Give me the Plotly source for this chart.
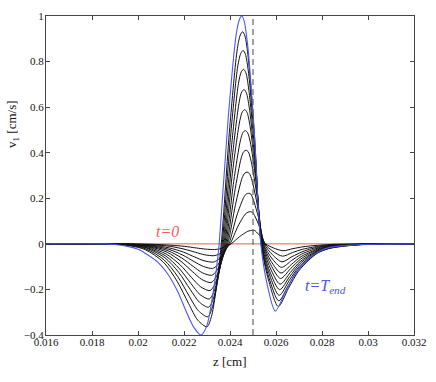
import plotly.graph_objects as go

# ── DATA ──────────────────────────────────────────────────
# black curves, from the smallest (earliest) to the largest
c01_z = [0.016, 0.01963, 0.02063, 0.02143, 0.02203, 0.02253, 0.02293, 0.02333, 0.02355, 0.02376, 0.02405,
         0.02442, 0.02475, 0.02488, 0.02498, 0.02508, 0.02515, 0.02535, 0.02555, 0.02589, 0.0263, 0.02674,
         0.02717, 0.0276, 0.028, 0.0285, 0.02964, 0.032]
c01_v = [0, 0.0, -0.002, -0.006, -0.011, -0.018, -0.023, -0.025, -0.022, -0.015, 0,
         0.032, 0.054, 0.058, 0.059, 0.058, 0.052, 0.030, 0, -0.018, -0.030, -0.021,
         -0.013, -0.008, -0.005, -0.002, -0.001, 0]

c02_z = [0.016, 0.0196, 0.0206, 0.0214, 0.022, 0.0225, 0.0229, 0.0233, 0.02351, 0.02372, 0.024,
         0.02435, 0.02466, 0.02478, 0.02488, 0.02498, 0.02507, 0.0253, 0.02552, 0.02586, 0.02628, 0.02672,
         0.02715, 0.02758, 0.02798, 0.02848, 0.02968, 0.032]
c02_v = [0, -0.001, -0.004, -0.011, -0.023, -0.037, -0.048, -0.052, -0.046, -0.031, 0,
         0.078, 0.130, 0.139, 0.141, 0.138, 0.124, 0.071, 0, -0.032, -0.054, -0.038,
         -0.024, -0.015, -0.008, -0.004, -0.001, 0]

c03_z = [0.016, 0.0196, 0.02057, 0.02137, 0.02197, 0.02247, 0.02287, 0.02327, 0.02347, 0.02368, 0.02395,
         0.02429, 0.0246, 0.02471, 0.02481, 0.02491, 0.02501, 0.02525, 0.02549, 0.02584, 0.02626, 0.0267,
         0.02713, 0.02756, 0.02796, 0.02846, 0.02966, 0.032]
c03_v = [0, -0.001, -0.006, -0.018, -0.036, -0.058, -0.074, -0.080, -0.070, -0.048, 0,
         0.122, 0.204, 0.219, 0.222, 0.218, 0.195, 0.111, 0, -0.047, -0.079, -0.056,
         -0.035, -0.021, -0.012, -0.006, -0.001, 0]

c04_z = [0.016, 0.01954, 0.02054, 0.02134, 0.02194, 0.02244, 0.02284, 0.02324, 0.02344, 0.02364, 0.0239,
         0.02424, 0.02453, 0.02464, 0.02474, 0.02484, 0.02496, 0.02521, 0.02546, 0.02581, 0.02624, 0.02668,
         0.02711, 0.02754, 0.02794, 0.02844, 0.02964, 0.032]
c04_v = [0, -0.001, -0.008, -0.024, -0.049, -0.078, -0.099, -0.108, -0.095, -0.065, 0,
         0.173, 0.290, 0.310, 0.315, 0.309, 0.277, 0.158, 0, -0.062, -0.103, -0.073,
         -0.045, -0.028, -0.015, -0.008, -0.002, 0]

c05_z = [0.016, 0.0195, 0.0205, 0.0213, 0.0219, 0.0224, 0.0228, 0.0232, 0.0234, 0.0236, 0.02386,
         0.0242, 0.02449, 0.0246, 0.0247, 0.0248, 0.02492, 0.02518, 0.02544, 0.02579, 0.02622, 0.02666,
         0.02709, 0.02752, 0.02792, 0.02842, 0.02962, 0.032]
c05_v = [0, -0.001, -0.010, -0.030, -0.062, -0.099, -0.127, -0.138, -0.121, -0.083, 0,
         0.226, 0.378, 0.405, 0.411, 0.403, 0.362, 0.206, 0, -0.077, -0.128, -0.091,
         -0.056, -0.035, -0.019, -0.010, -0.002, 0]

c06_z = [0.016, 0.01947, 0.02047, 0.02127, 0.02187, 0.02237, 0.02277, 0.02317, 0.02337, 0.02356, 0.02382,
         0.02416, 0.02446, 0.02457, 0.02467, 0.02477, 0.0249, 0.02516, 0.02542, 0.02577, 0.0262, 0.02664,
         0.02707, 0.0275, 0.0279, 0.0284, 0.0296, 0.032]
c06_v = [0, -0.002, -0.012, -0.037, -0.077, -0.122, -0.156, -0.170, -0.150, -0.102, 0,
         0.273, 0.457, 0.490, 0.497, 0.487, 0.437, 0.249, 0, -0.091, -0.152, -0.108,
         -0.067, -0.041, -0.023, -0.011, -0.003, 0]

c07_z = [0.016, 0.01943, 0.02043, 0.02123, 0.02183, 0.02233, 0.02273, 0.02313, 0.02333, 0.02352, 0.02378,
         0.02412, 0.02443, 0.02454, 0.02464, 0.02474, 0.02487, 0.02513, 0.0254, 0.02575, 0.02618, 0.02662,
         0.02705, 0.02748, 0.02788, 0.02838, 0.02958, 0.032]
c07_v = [0, -0.002, -0.014, -0.045, -0.092, -0.148, -0.189, -0.205, -0.180, -0.123, 0,
         0.324, 0.542, 0.580, 0.589, 0.577, 0.518, 0.295, 0, -0.106, -0.177, -0.126,
         -0.078, -0.048, -0.027, -0.013, -0.003, 0]

c08_z = [0.016, 0.0194, 0.0204, 0.0212, 0.0218, 0.0223, 0.0227, 0.0231, 0.02329, 0.02348, 0.02374,
         0.02409, 0.0244, 0.02451, 0.02461, 0.02471, 0.02484, 0.02511, 0.02538, 0.02573, 0.02616, 0.0266,
         0.02703, 0.02746, 0.02786, 0.02836, 0.02956, 0.032]
c08_v = [0, -0.002, -0.017, -0.053, -0.109, -0.174, -0.223, -0.242, -0.213, -0.145, 0,
         0.372, 0.623, 0.667, 0.677, 0.663, 0.596, 0.339, 0, -0.121, -0.201, -0.143,
         -0.088, -0.054, -0.030, -0.015, -0.003, 0]

c09_z = [0.016, 0.01937, 0.02037, 0.02117, 0.02177, 0.02227, 0.02267, 0.02307, 0.02326, 0.02345, 0.0237,
         0.02406, 0.02437, 0.02449, 0.02459, 0.02469, 0.02482, 0.0251, 0.02537, 0.02572, 0.02614, 0.02658,
         0.02701, 0.02744, 0.02784, 0.02834, 0.02954, 0.032]
c09_v = [0, -0.003, -0.019, -0.061, -0.125, -0.200, -0.256, -0.278, -0.245, -0.167, 0,
         0.421, 0.705, 0.755, 0.766, 0.751, 0.674, 0.383, 0, -0.136, -0.226, -0.160,
         -0.099, -0.061, -0.034, -0.017, -0.004, 0]

c10_z = [0.016, 0.01933, 0.02033, 0.02113, 0.02173, 0.02223, 0.02263, 0.02303, 0.02322, 0.02341, 0.02366,
         0.02402, 0.02434, 0.02447, 0.02457, 0.02467, 0.02481, 0.02508, 0.02536, 0.0257, 0.02612, 0.02656,
         0.02699, 0.02742, 0.02782, 0.02832, 0.02952, 0.032]
c10_v = [0, -0.003, -0.022, -0.070, -0.144, -0.230, -0.294, -0.320, -0.282, -0.192, 0,
         0.467, 0.781, 0.836, 0.849, 0.832, 0.747, 0.425, 0, -0.150, -0.250, -0.178,
         -0.110, -0.068, -0.038, -0.019, -0.004, 0]

c11_z = [0.016, 0.0193, 0.0203, 0.0211, 0.0217, 0.0222, 0.0226, 0.023, 0.02319, 0.02337, 0.02362,
         0.02399, 0.02432, 0.02445, 0.02455, 0.02465, 0.02479, 0.02507, 0.02535, 0.02569, 0.0261, 0.02654,
         0.02697, 0.0274, 0.0278, 0.0283, 0.0295, 0.032]
c11_v = [0, -0.004, -0.025, -0.080, -0.164, -0.262, -0.335, -0.364, -0.320, -0.218, 0,
         0.512, 0.857, 0.917, 0.931, 0.912, 0.819, 0.466, 0, -0.165, -0.275, -0.195,
         -0.121, -0.074, -0.041, -0.021, -0.005, 0]

# final state t = T_end (blue)
end_z = [0.016, 0.0185, 0.019, 0.0196, 0.02, 0.02043, 0.02086, 0.02128, 0.02171, 0.02214, 0.02245,
         0.02274, 0.02299, 0.0232, 0.02341, 0.02353, 0.02392, 0.02427, 0.02441, 0.02451, 0.02461,
         0.02476, 0.02505, 0.02534, 0.02562, 0.02597, 0.02641, 0.02684, 0.02726, 0.02769, 0.02812,
         0.02854, 0.0294, 0.03, 0.032]
end_v = [0, 0, -0.003, -0.012, -0.024, -0.049, -0.08, -0.13, -0.206, -0.307, -0.37,
         -0.40, -0.36, -0.257, -0.11, 0, 0.55, 0.92, 0.985, 1.0, 0.98,
         0.88, 0.5, 0, -0.18, -0.295, -0.21, -0.13, -0.08, -0.044, -0.022,
         -0.012, -0.005, -0.002, 0]

# initial state t = 0 (red)
start_z = [0.016, 0.032]
start_v = [0, 0]

DASH_Z = 0.025

x_ticks = [0.016, 0.018, 0.020, 0.022, 0.024, 0.026, 0.028, 0.030, 0.032]
x_labels = ["0.016", "0.018", "0.02", "0.022", "0.024", "0.026", "0.028", "0.03", "0.032"]
y_ticks = [-0.4, -0.2, 0, 0.2, 0.4, 0.6, 0.8, 1.0]
y_labels = ["\u22120.4", "\u22120.2", "0", "0.2", "0.4", "0.6", "0.8", "1"]

black_curves = [(c01_z, c01_v), (c02_z, c02_v), (c03_z, c03_v), (c04_z, c04_v),
                (c05_z, c05_v), (c06_z, c06_v), (c07_z, c07_v), (c08_z, c08_v),
                (c09_z, c09_v), (c10_z, c10_v), (c11_z, c11_v)]

SERIF = "Liberation Serif, DejaVu Serif, serif"
BLUE = "#4b55f5"
RED = "#ff5a5a"

fig = go.Figure()

fig.add_trace(go.Scatter(x=start_z, y=start_v, mode="lines",
                         line=dict(color=RED, width=1), hoverinfo="skip"))

for zz, vv in black_curves:
    fig.add_trace(go.Scatter(x=zz, y=vv, mode="lines",
                             line=dict(color="#111111", width=1, shape="spline", smoothing=0.8),
                             hoverinfo="skip"))

fig.add_trace(go.Scatter(x=end_z, y=end_v, mode="lines",
                         line=dict(color=BLUE, width=1.1, shape="spline", smoothing=0.8),
                         hoverinfo="skip"))

fig.add_vline(x=DASH_Z, line=dict(color="#666666", width=1.2, dash="6px,4px"))

fig.add_annotation(x=0.02129, y=0.056, text="<i>t=0</i>", showarrow=False,
                   font=dict(family=SERIF, size=16, color=RED))
fig.add_annotation(x=0.02716, y=-0.185, xanchor="left",
                   text="<i>t=T<sub>end</sub></i>", showarrow=False,
                   font=dict(family=SERIF, size=16, color=BLUE))

# axis titles (positioned like the original)
fig.add_annotation(x=0.5, y=-0.083, xref="paper", yref="paper", text="z [cm]",
                   xanchor="center", yanchor="middle",
                   showarrow=False, font=dict(family=SERIF, size=13, color="#111"))
fig.add_annotation(x=-0.091, y=0.66, xref="paper", yref="paper",
                   xanchor="center", yanchor="middle",
                   text="v<sub>1</sub> [cm/s]", textangle=-90, showarrow=False,
                   font=dict(family=SERIF, size=13, color="#111"))

axis_common = dict(showgrid=False, zeroline=False, showline=True, linecolor="#444",
                   linewidth=1, mirror="ticks", ticks="inside", ticklen=4,
                   tickcolor="#444", tickfont=dict(family=SERIF, size=11, color="#111"))

fig.update_xaxes(range=[0.016, 0.032], tickvals=x_ticks, ticktext=x_labels,
                 ticklabelstandoff=-3, **axis_common)
fig.update_yaxes(range=[-0.4, 1.0], tickvals=y_ticks, ticktext=y_labels,
                 ticklabelstandoff=-1, **axis_common)

fig.update_layout(width=436, height=382, showlegend=False,
                  plot_bgcolor="white", paper_bgcolor="white",
                  font=dict(family=SERIF),
                  margin=dict(l=46, r=14, t=10, b=47))

fig.write_html("out.html", config={"displayModeBar": False},
               post_script="document.body.style.margin='0px';")
